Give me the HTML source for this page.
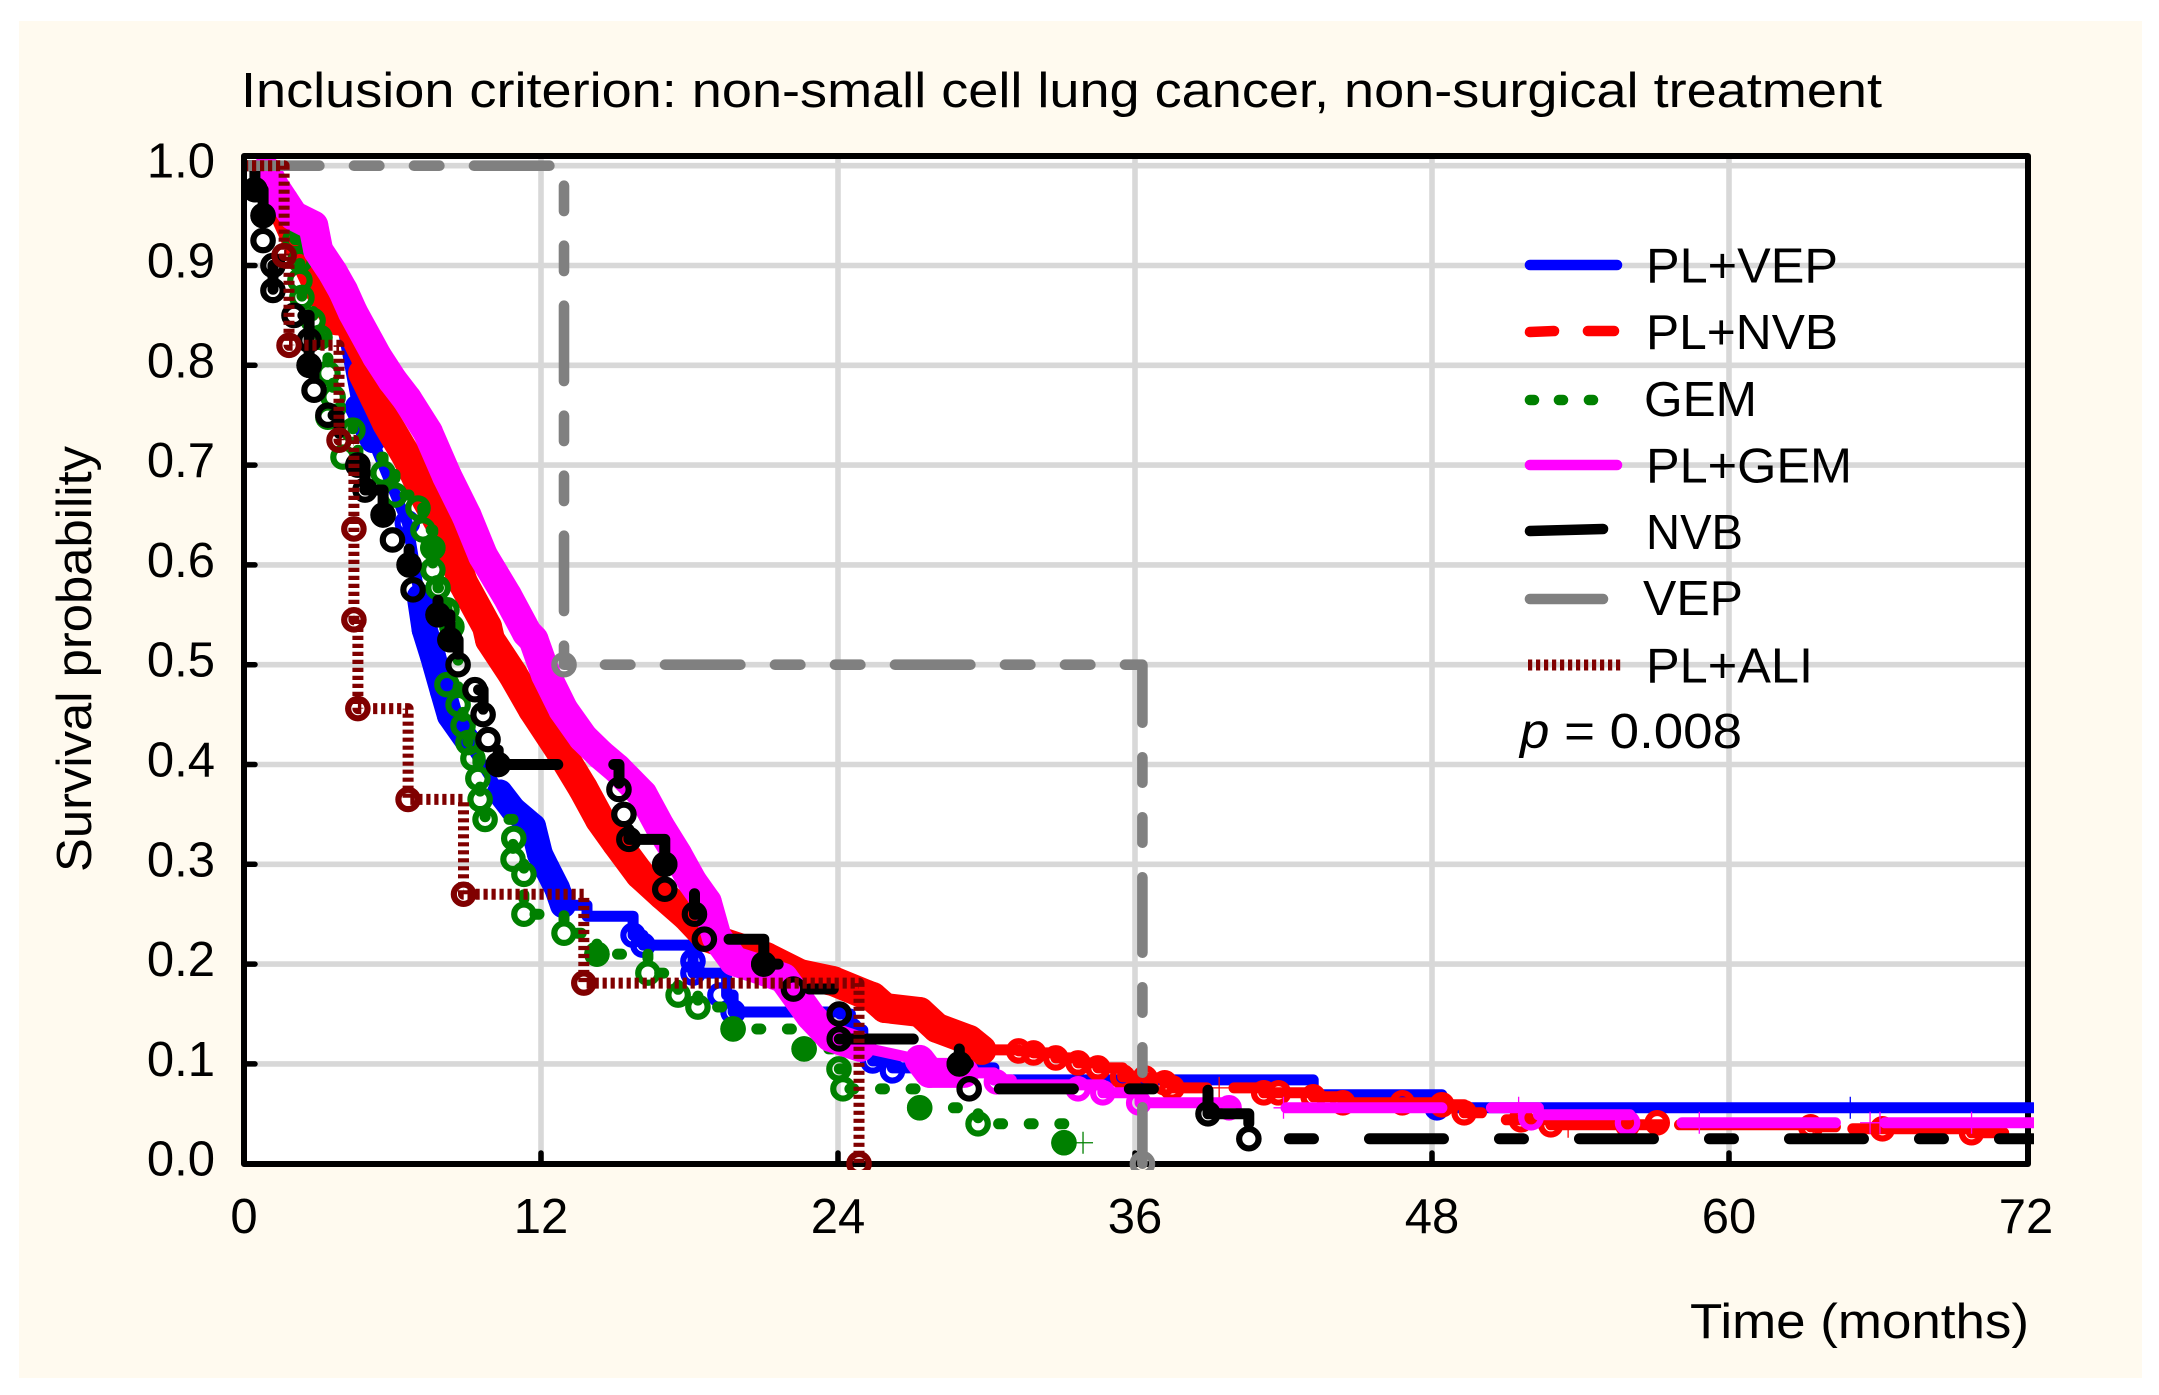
<!DOCTYPE html>
<html>
<head>
<meta charset="utf-8">
<title>Survival probability chart</title>
<style>
html,body{margin:0;padding:0;background:#fff;}
svg{display:block;}
text{font-family:"Liberation Sans",sans-serif;fill:#000;}
</style>
</head>
<body>
<svg id="chart" xmlns="http://www.w3.org/2000/svg" width="2159" height="1395" viewBox="0 0 2159 1395">
  <defs><clipPath id="plot-clip"><rect x="247" y="159" width="1787" height="1011"/></clipPath></defs>
  <rect x="19" y="21" width="2123" height="1357" fill="#FFFAEF"/>
  <rect x="244" y="156" width="1784" height="1008" fill="#fff"/>
  <g id="grid"></g>
  <g id="ticks"></g>
  <rect x="244" y="156" width="1784" height="1008" fill="none" stroke="#000" stroke-width="6" stroke-linejoin="round"/>
  <g id="tick-labels"></g>
  <g id="series" clip-path="url(#plot-clip)"></g>

  <text x="241" y="107" font-size="49" textLength="1641" lengthAdjust="spacingAndGlyphs">Inclusion criterion: non-small cell lung cancer, non-surgical treatment</text>
  <text transform="translate(91,872) rotate(-90)" font-size="49" textLength="426" lengthAdjust="spacingAndGlyphs">Survival probability</text>
  <text x="1690" y="1338" font-size="49" textLength="339" lengthAdjust="spacingAndGlyphs">Time (months)</text>

  <g>
    <g>
      <line x1="1530" y1="265" x2="1617" y2="265" stroke="#0000FF" stroke-width="10.6" stroke-linecap="round"/>
      <text x="1646" y="282.5" font-size="49" textLength="192" lengthAdjust="spacingAndGlyphs">PL+VEP</text>
    </g>
    <g>
      <line x1="1530" y1="332" x2="1554" y2="331" stroke="#FF0000" stroke-width="10.6" stroke-linecap="round"/>
      <line x1="1588" y1="331" x2="1614" y2="331" stroke="#FF0000" stroke-width="10.6" stroke-linecap="round"/>
      <text x="1646" y="349" font-size="49" textLength="192" lengthAdjust="spacingAndGlyphs">PL+NVB</text>
    </g>
    <g>
      <line x1="1530" y1="400" x2="1534" y2="400" stroke="#008000" stroke-width="10.6" stroke-linecap="round"/>
      <line x1="1559" y1="400" x2="1563" y2="400" stroke="#008000" stroke-width="10.6" stroke-linecap="round"/>
      <line x1="1589" y1="400" x2="1593" y2="400" stroke="#008000" stroke-width="10.6" stroke-linecap="round"/>
      <text x="1644" y="416" font-size="49" textLength="113" lengthAdjust="spacingAndGlyphs">GEM</text>
    </g>
    <g>
      <line x1="1530" y1="465" x2="1617" y2="465" stroke="#FF00FF" stroke-width="10.6" stroke-linecap="round"/>
      <text x="1646" y="482.5" font-size="49" textLength="206" lengthAdjust="spacingAndGlyphs">PL+GEM</text>
    </g>
    <g>
      <line x1="1530" y1="531" x2="1603" y2="529" stroke="#000" stroke-width="10.6" stroke-linecap="round"/>
      <text x="1646" y="549" font-size="49" textLength="97" lengthAdjust="spacingAndGlyphs">NVB</text>
    </g>
    <g>
      <line x1="1530" y1="599" x2="1603" y2="599" stroke="#808080" stroke-width="10.6" stroke-linecap="round"/>
      <text x="1643" y="615" font-size="49" textLength="100" lengthAdjust="spacingAndGlyphs">VEP</text>
    </g>
    <g>
      <line x1="1528" y1="665" x2="1624" y2="665" stroke="#800000" stroke-width="11" stroke-dasharray="4.2 3.8"/>
      <text x="1646" y="682.5" font-size="49" textLength="167" lengthAdjust="spacingAndGlyphs">PL+ALI</text>
    </g>
    <text x="1520" y="748" font-size="49" textLength="222" lengthAdjust="spacingAndGlyphs"><tspan font-style="italic">p</tspan> = 0.008</text>
  </g>
</svg>
<script>
// ---- axis ticks ----
const xTickValues = [0, 12, 24, 36, 48, 60, 72];
const xTickLabels = ["0", "12", "24", "36", "48", "60", "72"];
const yTickValues = [0, 0.1, 0.2, 0.3, 0.4, 0.5, 0.6, 0.7, 0.8, 0.9, 1.0];
const yTickLabels = ["0.0", "0.1", "0.2", "0.3", "0.4", "0.5", "0.6", "0.7", "0.8", "0.9", "1.0"];

// ---- PL+VEP ----
const plVepT = [1.0,2.6,3.9,4.6,5.2,6.6,7.1,7.3,7.64,8.04,8.32,9,10.34,10.87,11.68,11.96,12.24,12.65,12.89,13.86,15.72,16.12,18.14,18.14,19.5,19.76,24.08,24.5,25,25.4,26.2,30.3,43.2,48.4,72.3];
const plVepS = [0.98,0.9,0.85,0.758,0.725,0.642,0.568,0.535,0.508,0.473,0.449,0.425,0.372,0.355,0.338,0.31,0.296,0.276,0.259,0.248,0.229,0.219,0.203,0.191,0.169,0.152,0.15,0.134,0.115,0.103,0.096,0.084,0.069,0.056,0.056];
const plVepMarkT = [3.9,4.6,5.2,6.6,7.1,7.3,7.64,8.04,8.32,9,10.34,10.87,11.68,11.96,12.24,12.65,12.89,15.72,16.12,18.14,18.14,19.23,19.76,24.5,25.4,26.2,48.2];
const plVepMarkS = [0.85,0.758,0.725,0.642,0.568,0.535,0.508,0.473,0.449,0.425,0.372,0.355,0.338,0.31,0.296,0.276,0.259,0.229,0.219,0.203,0.191,0.169,0.152,0.134,0.103,0.093,0.056];
const plVepPlusT = [64.9];
const plVepPlusS = [0.056];

// ---- PL+NVB ----
const plNvbT = [0.8,1.0,1.6,2.14,3.07,3.76,4.81,5.3,5.78,6.59,7.39,8.2,8.85,9.82,9.94,10.87,11.68,12.77,13.7,14.38,15.07,16,16.93,17.9,18.7,19.9,21.1,22.46,23.8,25.17,25.4,25.9,27.3,28,29.3,29.8,31.3,31.9,32.8,33.7,34.5,35.5,36.4,37.2,37.5,38.9,null,40,41.2,41.8,43.2,44.4,46.8,48.4,49.3,50,null,51,52.8,55.9,57.3,null,58,63.3,64.3,null,65,66.2,69.8,71.1];
const plNvbS = [0.985,0.98,0.955,0.925,0.875,0.845,0.792,0.767,0.742,0.708,0.665,0.628,0.582,0.538,0.525,0.49,0.455,0.414,0.376,0.345,0.321,0.29,0.269,0.248,0.227,0.217,0.207,0.19,0.183,0.169,0.167,0.156,0.152,0.136,0.124,0.114,0.113,0.111,0.106,0.101,0.096,0.087,0.086,0.081,0.076,0.076,null,0.076,0.071,0.071,0.067,0.061,0.061,0.059,0.051,0.051,null,0.044,0.039,0.039,0.039,null,0.039,0.037,0.037,null,0.035,0.035,0.031,0.031];
const plNvbMarkT = [1.0,1.6,2.14,3.07,3.76,4.81,5.3,5.78,6.59,7.39,8.2,8.85,9.82,9.94,10.87,11.68,12.77,13.7,14.38,15.07,16,16.93,17.9,18.7,19.9,21.1,22.46,23.8,25.17,25.4,25.9,27.3,28,29.3,29.8,31.3,31.9,32.8,33.7,34.5,35.5,36.4,37.2,37.5,41.2,41.8,43.2,44.4,46.8,48.4,49.3,51.6,52.8,55.9,57.1,63.3,66.2,69.8];
const plNvbMarkS = [0.98,0.955,0.925,0.875,0.845,0.792,0.767,0.742,0.708,0.665,0.628,0.582,0.538,0.525,0.49,0.455,0.414,0.376,0.345,0.321,0.29,0.269,0.248,0.227,0.217,0.207,0.19,0.183,0.169,0.167,0.156,0.152,0.136,0.124,0.114,0.113,0.111,0.106,0.101,0.096,0.087,0.086,0.081,0.076,0.071,0.071,0.067,0.061,0.061,0.059,0.051,0.044,0.039,0.039,0.041,0.037,0.035,0.031];
const plNvbPlusT = [39.4,53.5,63.4];
const plNvbPlusS = [0.076,0.037,0.037];

// ---- GEM ----
const gemT = [1.13,2.06,2.26,2.26,2.34,2.79,3.07,3.39,3.6,3.9,4.4,4.6,5.62,6.1,7.03,7.23,7.63,7.63,7.84,8.2,8.4,8.65,8.85,9.05,9.25,9.45,9.54,9.74,10.9,10.87,11.31,11.31,12.93,14.26,16.32,17.54,18.34,19.76,22.63,24.04,24.2,27.3,29.66,33.13];
const gemS = [0.966,0.926,0.905,0.885,0.868,0.845,0.828,0.792,0.768,0.748,0.735,0.708,0.692,0.67,0.657,0.635,0.617,0.595,0.577,0.555,0.538,0.46,0.439,0.422,0.406,0.386,0.365,0.345,0.326,0.305,0.29,0.25,0.231,0.21,0.191,0.169,0.157,0.135,0.115,0.095,0.075,0.056,0.04,0.021];
const gemMarkT = [2.06,2.26,2.26,2.34,2.79,3.07,3.39,3.6,3.39,4.4,4,5.62,6.1,7.03,7.23,7.63,7.63,7.84,8.2,8.4,8.2,8.65,8.85,9.05,9.25,9.45,9.54,9.74,10.9,10.87,11.31,11.31,12.93,14.26,16.32,17.54,18.34,19.76,22.63,24.04,24.2,27.3,29.66,33.13];
const gemMarkS = [0.926,0.905,0.885,0.868,0.845,0.828,0.792,0.768,0.748,0.735,0.708,0.692,0.67,0.657,0.635,0.617,0.595,0.577,0.555,0.538,0.48,0.46,0.439,0.422,0.406,0.386,0.365,0.345,0.326,0.305,0.29,0.25,0.231,0.21,0.191,0.169,0.157,0.135,0.115,0.095,0.075,0.056,0.04,0.021];
const gemSolidT = [7.63,14.26,19.76,22.63,27.3,33.13];
const gemSolidS = [0.617,0.21,0.135,0.115,0.056,0.021];
const gemPlusT = [33.9];
const gemPlusS = [0.021];

// ---- PL+GEM ----
const plGemT = [0.6,0.9,1.2,1.6,2.0,2.8,3.0,3.59,4.0,4.4,5.37,6.0,6.59,7.43,8.2,9.0,9.66,10.63,11.43,11.7,12.2,12.9,13.7,14.4,15.07,16.1,16.8,17.5,18.1,18.7,19.1,19.8,20.8,21.8,22.9,23.7,24.9,27.3,27.7,29.1,30.3,31,33.8,34.7,36.2,40,null,42.1,48.4,null,50.4,52.3,56,null,58.1,64.3,null,66.3,72.3];
const plGemS = [0.99,0.995,0.98,0.965,0.95,0.94,0.915,0.893,0.875,0.853,0.809,0.785,0.766,0.733,0.689,0.649,0.609,0.569,0.532,0.525,0.49,0.455,0.427,0.41,0.396,0.37,0.338,0.31,0.283,0.262,0.227,0.203,0.195,0.186,0.148,0.127,0.117,0.104,0.091,0.091,0.084,0.079,0.079,0.071,0.061,0.061,null,0.056,0.056,null,0.056,0.049,0.049,null,0.041,0.041,null,0.041,0.041];
const plGemMarkT = [0.9,1.2,1.6,2.0,2.8,3.0,3.59,4.0,4.4,5.37,6.0,6.59,7.43,8.2,9.0,9.66,10.63,11.43,11.7,12.2,12.9,13.7,14.4,15.07,16.1,16.8,17.5,18.1,18.7,19.1,19.8,20.8,21.8,22.9,23.7,24.9,27.3,27.7,29.1,30.4,33.7,34.7,36.15,39.8,52,55.9];
const plGemMarkS = [0.995,0.98,0.965,0.95,0.94,0.915,0.893,0.875,0.853,0.809,0.785,0.766,0.733,0.689,0.649,0.609,0.569,0.532,0.525,0.49,0.455,0.427,0.41,0.396,0.37,0.338,0.31,0.283,0.262,0.227,0.203,0.195,0.186,0.148,0.127,0.117,0.104,0.091,0.091,0.082,0.075,0.071,0.061,0.056,0.046,0.041];
const plGemPlusT = [42,51.5,58.8,65.7,66.1,69.8];
const plGemPlusS = [0.056,0.056,0.041,0.041,0.041,0.041];

// ---- NVB ----
const nvbT = [0,0.44,0.77,0.77,1.17,1.17,2.02,2.63,2.63,2.83,3.39,3.84,4.6,4.89,5.62,6.0,6.67,6.83,7.84,8.32,8.65,9.33,9.66,9.86,10.27,15.15,15.35,15.55,17,17,18.2,18.6,21,22.2,24.05,24.05,28.9,29.3,38.95,40.6,72.3];
const nvbS = [1,0.976,0.95,0.925,0.9,0.875,0.85,0.825,0.8,0.775,0.75,0.725,0.7,0.675,0.65,0.625,0.6,0.575,0.55,0.525,0.5,0.475,0.45,0.425,0.4,0.375,0.35,0.325,0.3,0.275,0.25,0.225,0.2,0.175,0.15,0.125,0.1,0.075,0.05,0.025,0.025];
const nvbMarkT = [0.44,0.77,0.77,1.17,1.17,2.02,2.63,2.63,2.83,3.39,4.6,4.89,5.62,6.0,6.67,6.83,7.84,8.32,8.65,9.33,9.66,9.86,10.27,15.15,15.35,15.55,17,17,18.2,18.6,21,22.2,24.05,24.05,28.9,29.3,38.95,40.6];
const nvbMarkS = [0.976,0.95,0.925,0.9,0.875,0.85,0.825,0.8,0.775,0.75,0.7,0.675,0.65,0.625,0.6,0.575,0.55,0.525,0.5,0.475,0.45,0.425,0.4,0.375,0.35,0.325,0.3,0.275,0.25,0.225,0.2,0.175,0.15,0.125,0.1,0.075,0.05,0.025];
const nvbSolidT = [0.44,0.77,2.63,4.6,5.62,6.67,7.84,8.32,10.27,17,21,28.9];
const nvbSolidS = [0.976,0.95,0.8,0.7,0.65,0.6,0.55,0.525,0.4,0.3,0.2,0.1];

// ---- VEP ----
const vepT = [0, 12.93, 36.3];
const vepS = [1, 0.5, 0];
const vepMarkT = [12.93, 36.3];
const vepMarkS = [0.5, 0];

// ---- PL+ALI ----
const plAliT = [0,1.62,1.82,3.84,4.44,4.44,4.6,6.63,8.87,13.73,24.85];
const plAliS = [1,0.91,0.82,0.725,0.636,0.545,0.456,0.365,0.27,0.181,0];
const plAliMarkT = [1.62,1.82,3.84,4.44,4.44,4.6,6.63,8.87,13.73,24.85];
const plAliMarkS = [0.91,0.82,0.725,0.636,0.545,0.456,0.365,0.27,0.181,0];

// ---- axis functions ----
function xPos(t) { return 244 + t * 24.75; }
function yPos(s) { return 165.7 + (1 - s) * 998; }

const SVG_NS = "http://www.w3.org/2000/svg";
function mk(parent, tag, attrs) {
  const el = document.createElementNS(SVG_NS, tag);
  for (const k in attrs) el.setAttribute(k, attrs[k]);
  parent.appendChild(el);
  return el;
}

// Step path; inside a merged censor band the very small steps are drawn straight.
function stepPath(ts, ss, straightUntil) {
  let d = "", fresh = true;
  for (let i = 0; i < ts.length; i++) {
    if (ts[i] === null) { fresh = true; continue; }
    const x = xPos(ts[i]).toFixed(1), y = yPos(ss[i]).toFixed(1);
    if (fresh) { d += "M" + x + " " + y; fresh = false; }
    else if (ts[i] <= straightUntil) { d += "L" + x + " " + y; }
    else { d += "H" + x + "V" + y; }
  }
  return d;
}

// ---- grid, ticks and tick labels ----
const gridG = document.getElementById("grid");
const tickG = document.getElementById("ticks");
const labelG = document.getElementById("tick-labels");

yTickValues.forEach(function (v, i) {
  const y = yPos(v);
  if (v > 0) {
    const g = mk(gridG, "line", { x1: 247, x2: 2028, y1: y, y2: y, stroke: "#D8D8D8", "stroke-width": 5.6 });
    
    
    const t = mk(tickG, "line", { x1: 244, x2: 255, y1: y, y2: y, stroke: "#000", "stroke-width": 5.5, "stroke-linecap": "round" });
    
    
  }
  const l = mk(labelG, "text", { x: 215, y: y + 12, "font-size": 49, "text-anchor": "end" });
  
  
  l.textContent = yTickLabels[i];
});

xTickValues.forEach(function (v, i) {
  const x = xPos(v);
  if (v > 0 && v < 72) {
    const g = mk(gridG, "line", { x1: x, x2: x, y1: 159, y2: 1164, stroke: "#D8D8D8", "stroke-width": 5.6 });
    
    
    const t = mk(tickG, "line", { x1: x, x2: x, y1: 1164, y2: 1153, stroke: "#000", "stroke-width": 5.5, "stroke-linecap": "round" });
    
    
  }
  const l = mk(labelG, "text", { x: x, y: 1233, "font-size": 49, "text-anchor": "middle" });
  
  
  l.textContent = xTickLabels[i];
});

// ---- series ----
const seriesG = document.getElementById("series");
const R = 9.7, MARK_W = 6.2, BAND_DIST = 58;

function drawSeries(cfg) {
  const g = mk(seriesG, "g", {});
  
  

  const line = mk(g, "path", {
    d: stepPath(cfg.t, cfg.s, cfg.bandUntil), fill: "none", stroke: cfg.color, "stroke-width": cfg.width,
    "stroke-linecap": cfg.cap, "stroke-linejoin": "round"
  });
  
  
  if (cfg.dash) line.setAttribute("stroke-dasharray", cfg.dash);
  if (cfg.alignEnd !== undefined) {
    const total = line.getTotalLength();
    const s0 = total - (xPos(cfg.t[cfg.t.length - 1]) - cfg.alignEnd);
    line.setAttribute("stroke-dashoffset", (((-s0) % 210) + 210) % 210);
  }

  // Censor marks packed close together merge into a solid band.
  for (let i = 0; i + 1 < cfg.mt.length; i++) {
    if (cfg.mt[i + 1] > cfg.bandUntil) break;
    const x1 = xPos(cfg.mt[i]), y1 = yPos(cfg.ms[i]), x2 = xPos(cfg.mt[i + 1]), y2 = yPos(cfg.ms[i + 1]);
    if (Math.hypot(x2 - x1, y2 - y1) > BAND_DIST) continue;
    const b = mk(g, "line", { x1: x1, y1: y1, x2: x2, y2: y2, stroke: cfg.color, "stroke-width": cfg.bandWidth, "stroke-linecap": "round" });
    
    
  }

  cfg.mt.forEach(function (t, i) {
    const c = mk(g, "circle", { cx: xPos(t), cy: yPos(cfg.ms[i]), r: R, fill: "none", stroke: cfg.color, "stroke-width": MARK_W });
    
    
  });

  // Overlapping censorings that read as filled discs.
  (cfg.st || []).forEach(function (t, i) {
    const c = mk(g, "circle", { cx: xPos(t), cy: yPos(cfg.ss[i]), r: R + 3, fill: cfg.color });
    
    
  });

  (cfg.pt || []).forEach(function (t, i) {
    const x = xPos(t), y = yPos(cfg.ps[i]);
    const p = mk(g, "path", { d: "M" + (x - 10) + " " + y + "H" + (x + 10) + "M" + x + " " + (y - 11) + "V" + (y + 11), fill: "none", stroke: cfg.color, "stroke-width": 1.3 });
    
    
  });
}

drawSeries({ name: "pl-vep", color: "#0000FF", t: plVepT, s: plVepS, mt: plVepMarkT, ms: plVepMarkS, pt: plVepPlusT, ps: plVepPlusS, width: 11, cap: "round", bandUntil: 12.9, bandWidth: 26 });
drawSeries({ name: "pl-nvb", color: "#FF0000", t: plNvbT, s: plNvbS, mt: plNvbMarkT, ms: plNvbMarkS, pt: plNvbPlusT, ps: plNvbPlusS, width: 11, cap: "round", bandUntil: 31, bandWidth: 30 });
drawSeries({ name: "gem", color: "#008000", t: gemT, s: gemS, mt: gemMarkT, ms: gemMarkS, st: gemSolidT, ss: gemSolidS, pt: gemPlusT, ps: gemPlusS, width: 11, cap: "round", dash: "4 26.6", bandUntil: -1, bandWidth: 26 });
drawSeries({ name: "pl-gem", color: "#FF00FF", t: plGemT, s: plGemS, mt: plGemMarkT, ms: plGemMarkS, pt: plGemPlusT, ps: plGemPlusS, width: 11, cap: "round", bandUntil: 29.2, bandWidth: 30 });
drawSeries({ name: "nvb", color: "#000000", t: nvbT, s: nvbS, mt: nvbMarkT, ms: nvbMarkS, st: nvbSolidT, ss: nvbSolidS, width: 11, cap: "round", dash: "74 56 24 56", alignEnd: 1789.5, bandUntil: -1, bandWidth: 26 });
drawSeries({ name: "vep", color: "#808080", t: vepT, s: vepS, mt: vepMarkT, ms: vepMarkS, width: 10.6, cap: "round", dash: "75.4 34.6 25.4 34.6 25.4 34.6", bandUntil: -1, bandWidth: 26 });
drawSeries({ name: "pl-ali", color: "#800000", t: plAliT, s: plAliS, mt: plAliMarkT, ms: plAliMarkS, width: 11, cap: "butt", dash: "4.2 3.8", bandUntil: -1, bandWidth: 26 });
</script>
</body>
</html>
